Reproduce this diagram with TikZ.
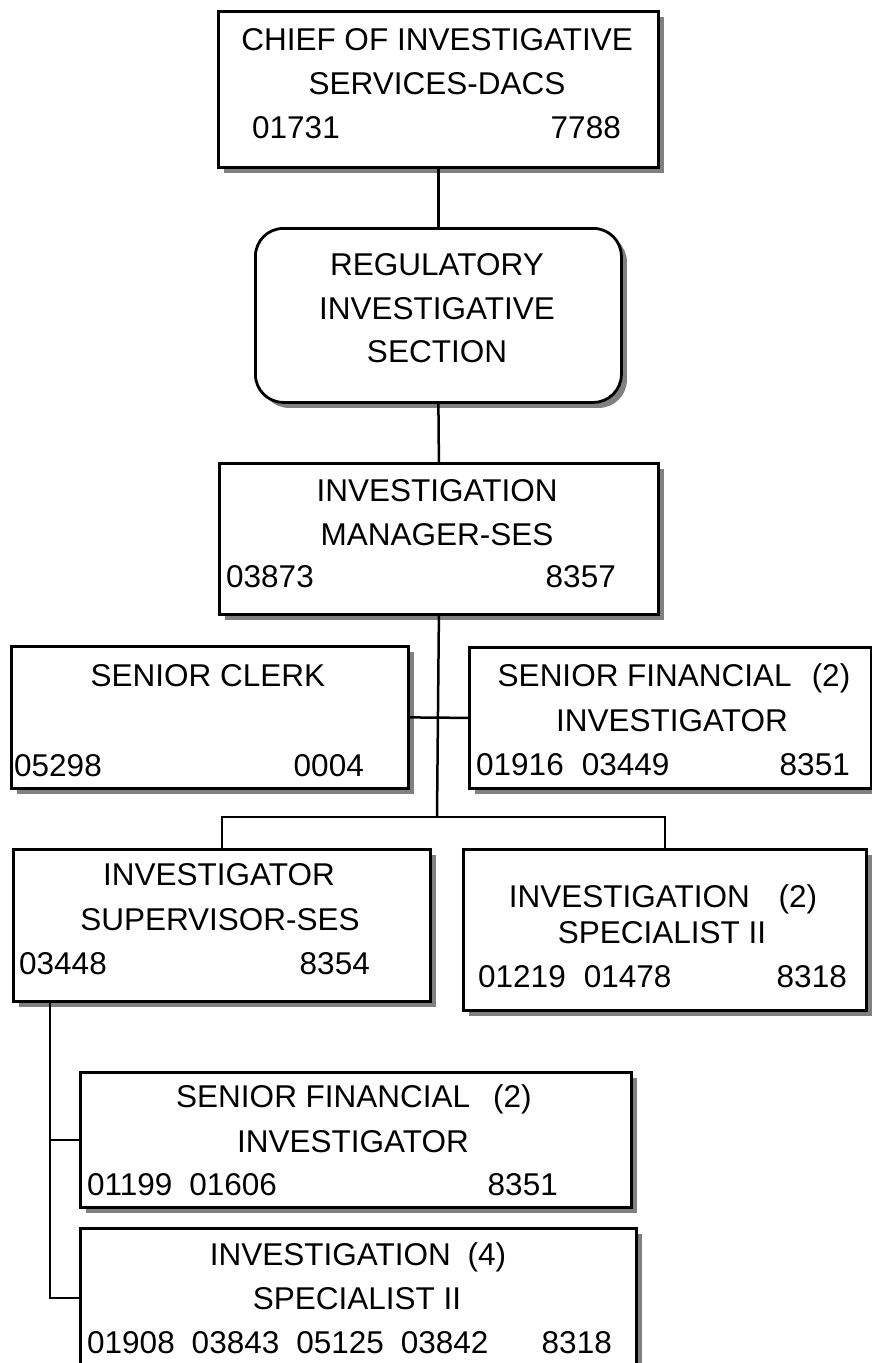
\documentclass[tikz,border=0pt]{standalone}
\usepackage{fontspec}
\setmainfont{Liberation Sans}
\usetikzlibrary{shadows}
\begin{document}
\begin{tikzpicture}[x=1pt,y=-1pt,
  box/.style={draw, line width=2.8pt, fill=white, rectangle, inner sep=0pt,
    anchor=north west,
    drop shadow={shadow xshift=5.5pt, shadow yshift=-5.5pt, fill=black!50, opacity=1}},
  lbl/.style={inner sep=0pt, font=\fontsize{31.5}{31.5}\selectfont, anchor=base},
  lnum/.style={lbl, anchor=base west},
  rnum/.style={lbl, anchor=base east},
  link/.style={line width=2.5pt}]
\useasboundingbox (0,0) rectangle (872,1363);
\clip (0,0) rectangle (872,1363);

% boxes
\node[box, minimum width=440pt, minimum height=156pt] (chief) at (217,10) {};
\node[box, rounded corners=28pt, minimum width=366pt, minimum height=174pt] (reg) at (254,227) {};
\node[box, minimum width=439pt, minimum height=151pt] (mgr) at (218,462) {};
\node[box, minimum width=397pt, minimum height=142pt] (clerk) at (10,645) {};
\node[box, minimum width=402pt, minimum height=141pt] (sfiA) at (468,646) {};
\node[box, minimum width=417pt, minimum height=152pt] (sup) at (12,848) {};
\node[box, minimum width=403pt, minimum height=161pt] (spec) at (462,848) {};
\node[box, minimum width=551pt, minimum height=135pt] (sfiB) at (79,1071) {};
\node[box, minimum width=556pt, minimum height=139pt] (inv4) at (79,1227) {};

% connectors
\coordinate (bus) at (437,817);
\coordinate (supstem) at (50,1000);
\draw[link] (chief.south) -- (reg.north);
\draw[link] (reg.south) -- (mgr.north);
\draw[link] (mgr.south) -- (bus);
\draw[link] (clerk.east) -- (sfiA.west);
\draw[link] (sup.north) |- (bus) -| (spec.north);
\draw[link] (supstem) |- (sfiB.west);
\draw[link] (supstem) |- (inv4.west);

% labels
\node[lbl] (chiefA) at (437,50) {CHIEF OF INVESTIGATIVE};
\node[lbl] (chiefB) at (437,94) {SERVICES-DACS};
\node[lnum] (chiefL) at (252,138) {01731};
\node[rnum] (chiefR) at (621,138) {7788};

\node[lbl] (regA) at (437,275) {REGULATORY};
\node[lbl] (regB) at (437,319) {INVESTIGATIVE};
\node[lbl] (regC) at (437,362) {SECTION};

\node[lbl] (mgrA) at (437,501) {INVESTIGATION};
\node[lbl] (mgrB) at (437,545) {MANAGER-SES};
\node[lnum] (mgrL) at (226,587) {03873};
\node[rnum] (mgrR) at (616,587) {8357};

\node[lbl] (clerkA) at (208,686) {SENIOR CLERK};
\node[lnum] (clerkL) at (14,776) {05298};
\node[rnum] (clerkR) at (364,776) {0004};

\node[lbl] (sfiAa) at (674,686) {SENIOR FINANCIAL\hspace{20pt}(2)};
\node[lbl] (sfiAb) at (672,731) {INVESTIGATOR};
\node[lnum] (sfiAL) at (476,775) {01916\hspace{18pt}03449};
\node[rnum] (sfiAR) at (850,775) {8351};

\node[lbl] (supA) at (219,885) {INVESTIGATOR};
\node[lbl] (supB) at (220,930) {SUPERVISOR-SES};
\node[lnum] (supL) at (19,974) {03448};
\node[rnum] (supR) at (370,974) {8354};

\node[lbl] (specA) at (663,907) {INVESTIGATION\hspace{29pt}(2)};
\node[lbl] (specB) at (662,943) {SPECIALIST II};
\node[lnum] (specL) at (478,987) {01219\hspace{18pt}01478};
\node[rnum] (specR) at (847,987) {8318};

\node[lbl] (sfiBa) at (354,1107) {SENIOR FINANCIAL\hspace{23pt}(2)};
\node[lbl] (sfiBb) at (353,1152) {INVESTIGATOR};
\node[lnum] (sfiBL) at (87,1195) {01199\hspace{17pt}01606};
\node[rnum] (sfiBR) at (558,1195) {8351};

\node[lbl] (inv4A) at (358,1265) {INVESTIGATION\hspace{17pt}(4)};
\node[lbl] (inv4B) at (357,1309) {SPECIALIST II};
\node[lnum] (inv4L) at (87,1353) {01908\hspace{17pt}03843\hspace{17pt}05125\hspace{17pt}03842};
\node[rnum] (inv4R) at (612,1353) {8318};
\end{tikzpicture}
\end{document}
